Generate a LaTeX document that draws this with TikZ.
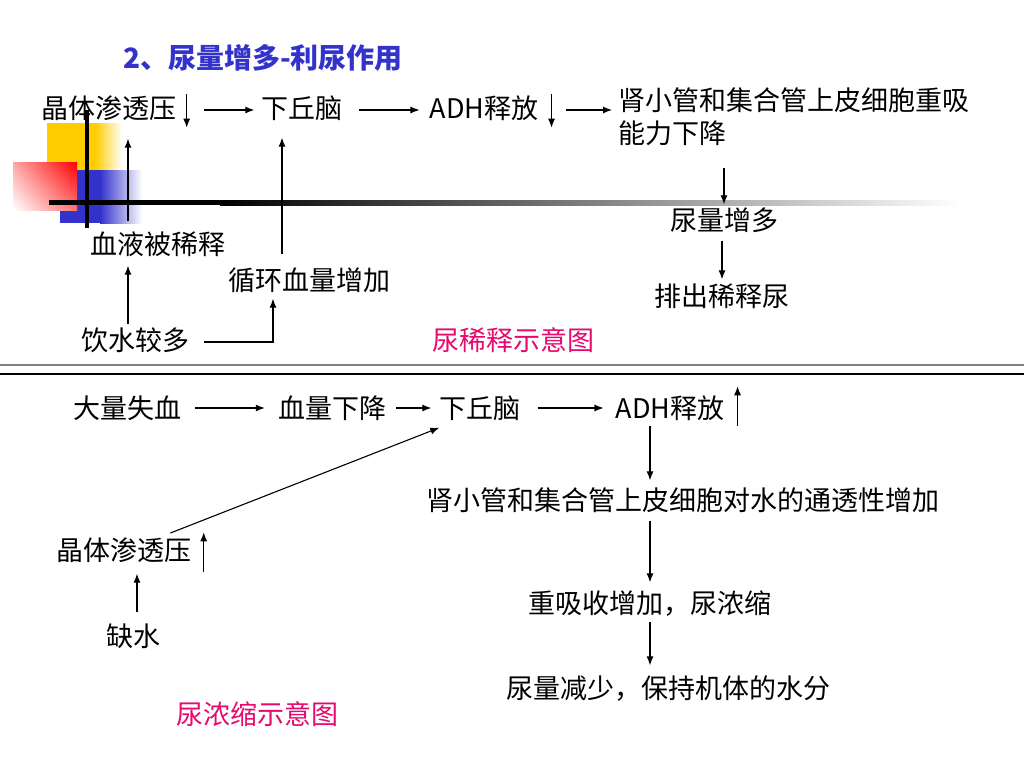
\documentclass[tikz,border=0pt]{standalone}
\usepackage{fontspec}
\setmainfont{Noto Sans CJK SC}
\usetikzlibrary{arrows.meta,shadings}
\definecolor{titleblue}{RGB}{51,51,204}
\definecolor{capred}{RGB}{230,10,110}
\definecolor{decoyellow}{RGB}{255,204,0}
\definecolor{decored}{RGB}{255,0,0}
\begin{document}
\begin{tikzpicture}[x=1pt,y=-1pt,
		txt/.style={inner sep=0pt,text height=24pt,text depth=3pt,font=\fontsize{27}{33}\selectfont},
		arr/.style={-{Latex[length=9pt,width=7pt]},line width=1.1pt},
		capt/.style={txt,text=capred}]
		\useasboundingbox[fill=white](0,0)rectangle(1024,768);
		% slide decoration
		\fill[decoyellow](47,123)rectangle(95,170);
		\shade[left color=decoyellow,right color=white](95,123)rectangle(122,170);
		\fill[titleblue](60,170)rectangle(100,223);
		\shade[left color=titleblue,right color=white](100,170)rectangle(142,223);
		\shade[upper left=decored!35,upper right=decored,lower left=white,lower right=decored!55](13,162)rectangle(77,210);
		\fill[black](49,200)rectangle(220,205);
		\shade[left color=black,middle color=gray!75,right color=white](220,200)rectangle(960,205);
		\draw[line width=4pt](87,110)--(87,228);
		\node[txt,font=\fontsize{28}{33}\selectfont\bfseries,text=titleblue](ttl) at (263,58) {2、尿量增多-利尿作用};
		% diluted urine
		\node[txt](cryA) at (109,108) {晶体渗透压};
		\node[txt](hypA) at (302,108) {下丘脑};
		\node[txt](adhA) at (484,108) {ADH释放};
		\node[txt,text height=,text depth=,align=left,anchor=west](kidA) at (618,117) {肾小管和集合管上皮细胞重吸\\能力下降};
		\node[txt](urA) at (724,220) {尿量增多};
		\node[txt](dilA) at (722,296) {排出稀释尿};
		\node[txt](bloodA) at (158,244) {血液被稀释};
		\node[txt](circA) at (309,280) {循环血量增加};
		\node[txt](drinkA) at (135,340) {饮水较多};
		\node[capt](capA) at (513,340) {尿稀释示意图};
		\draw[arr]([xshift=10]cryA.north east)--([xshift=10,yshift=-6]cryA.south east);
		\draw[arr]([xshift=13]adhA.north east)--([xshift=13,yshift=-6]adhA.south east);
		\draw[arr]([xshift=27,yshift=-2]cryA.east)--([xshift=-7,yshift=-2]hypA.west);
		\draw[arr]([xshift=16,yshift=-2]hypA.east)--([xshift=-10,yshift=-2]adhA.west);
		\draw[arr]([xshift=27,yshift=-2]adhA.east)--([xshift=-6,yshift=-2]kidA.west |- adhA.east);
		\draw[arr,shorten <=22pt,shorten >=2pt](urA.north |- kidA.south)--(urA.north);
		\draw[arr,shorten <=7pt,shorten >=3pt](urA.south -| dilA.north)--(dilA.north);
		\draw[arr,shorten <=9pt,shorten >=17pt]([xshift=-30]bloodA.north)--([xshift=-30]bloodA.north |- cryA.south);
		\draw[arr,shorten <=2pt,shorten >=8pt]([xshift=-30]bloodA.south |- drinkA.north)--([xshift=-30]bloodA.south);
		\draw[arr,shorten >=5pt]([xshift=15,yshift=-2]drinkA.east)-|([xshift=-36]circA.south);
		\draw[arr,shorten <=12pt,shorten >=16pt]([xshift=-27]circA.north)--([xshift=-27]circA.north |- hypA.south);
		% separator
		\draw[gray,line width=2pt](0,365)--(1024,365);
		\draw[line width=1.5pt](0,374)--(1024,374);
		% concentrated urine
		\node[txt](lossB) at (127,408) {大量失血};
		\node[txt](bvB) at (332,408) {血量下降};
		\node[txt](hypB) at (480,408) {下丘脑};
		\node[txt](adhB) at (670,408) {ADH释放};
		\node[txt](kidB) at (683,500) {肾小管和集合管上皮细胞对水的通透性增加};
		\node[txt](reabB) at (650,603) {重吸收增加，尿浓缩};
		\node[txt](lessB) at (668,688) {尿量减少，保持机体的水分};
		\node[txt](cryB) at (124,550) {晶体渗透压};
		\node[txt](waterB) at (133,636) {缺水};
		\node[capt](capB) at (257,714) {尿浓缩示意图};
		\draw[arr]([xshift=14]lossB.east)--([xshift=-13]bvB.west);
		\draw[arr]([xshift=10]bvB.east)--([xshift=-8]hypB.west);
		\draw[arr]([xshift=17]hypB.east)--([xshift=-12]adhB.west);
		\draw[arr]([xshift=13,yshift=-4]adhB.south east)--([xshift=13,yshift=8]adhB.north east);
		\draw[arr]([xshift=12,yshift=-8]cryB.south east)--([xshift=12,yshift=4]cryB.north east);
		\draw[arr,shorten <=4pt,shorten >=6pt]([xshift=-20]adhB.south)--([xshift=-20]adhB.south |- kidB.north);
		\draw[arr,shorten <=7pt,shorten >=7pt](reabB.north |- kidB.south)--(reabB.north);
		\draw[arr,shorten <=5pt,shorten >=9pt](reabB.south)--(reabB.south |- lessB.north);
		\draw[arr,shorten <=9pt]([xshift=38]cryB.north)--([yshift=-6]hypB.south west);
		\draw[arr,shorten <=10pt,shorten >=10pt]([xshift=4]waterB.north)--([xshift=4]waterB.north |- cryB.south);
\end{tikzpicture}
\end{document}
